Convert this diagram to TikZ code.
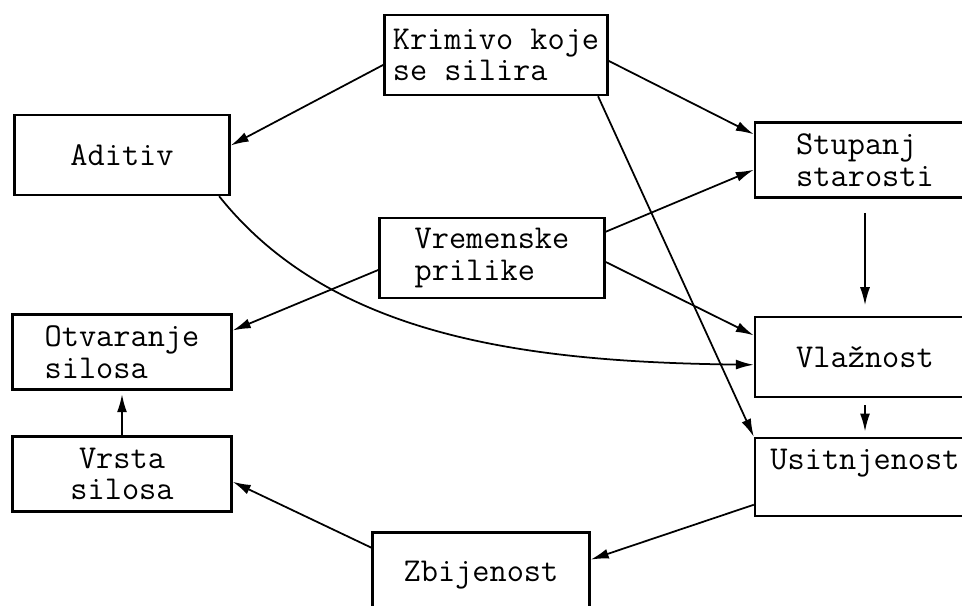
\documentclass[tikz,border=0pt]{standalone}
\usepackage{fontspec}
\usepackage{tikz}
\usetikzlibrary{arrows.meta}

\begin{document}
\begin{tikzpicture}[x=0.02cm, y=-0.02cm,
  every node/.style={font=\ttfamily\fontsize{19}{18}\selectfont},
  blok/.style={draw,line width=1.4pt,align=left,inner sep=3pt},
  arr/.style={line width=1pt,-{Latex[length=3.6mm,width=2mm]}}]
\useasboundingbox (0,0) rectangle (962,605);
\clip (0,0) rectangle (962,605);
\node[blok,minimum width=4.46cm,minimum height=1.6cm] (krmivo) at (496,55) {Krimivo koje\\se silira};
\node[blok,minimum width=4.3cm,minimum height=1.6cm] (aditiv) at (122,155) {Aditiv};
\node[blok,minimum width=4.4cm,minimum height=1.5cm] (stupanj) at (865,160) {Stupanj\\starosti};
\node[blok,minimum width=4.5cm,minimum height=1.6cm] (vremenske) at (492,258) {Vremenske\\prilike};
\node[blok,minimum width=4.38cm,minimum height=1.5cm] (otvaranje) at (122,352) {Otvaranje\\silosa};
\node[blok,minimum width=4.38cm,minimum height=1.5cm,align=center] (vrsta) at (122,474) {Vrsta\\silosa};
\node[blok,minimum width=4.4cm,minimum height=1.6cm] (vlaznost) at (865,357) {Vlažnost};
\node[blok,minimum width=4.4cm,minimum height=1.56cm,text height=0.4cm,text depth=0.7cm] (usitnjenost) at (865,477) {Usitnjenost};
\node[blok,minimum width=4.34cm,minimum height=1.7cm] (zbijenost) at (481,575) {Zbijenost};
\draw[arr] (krmivo.185) -- (aditiv.5);
\draw[arr] (krmivo.357) -- (stupanj.167);
\draw[arr] (krmivo.338) -- (usitnjenost.north west);
\draw[arr] (vremenske.13) -- (stupanj.185);
\draw[arr] (vremenske.358) -- (vlaznost.169);
\draw[arr] (vremenske.186) -- (otvaranje.11);
\draw[arr] (aditiv.337) .. controls (330,335) and (520,362) .. (vlaznost.184);
\draw[arr,shorten <=8pt,shorten >=6pt] (stupanj.south) -- (vlaznost.north);
\draw[arr,shorten <=4pt,shorten >=3pt] (vlaznost.south) -- (usitnjenost.north);
\draw[arr,shorten >=2pt] (vrsta.north) -- (otvaranje.south);
\draw[arr] (usitnjenost.194) -- (zbijenost.8);
\draw[arr] (zbijenost.166) -- (vrsta.356);
\end{tikzpicture}
\end{document}
